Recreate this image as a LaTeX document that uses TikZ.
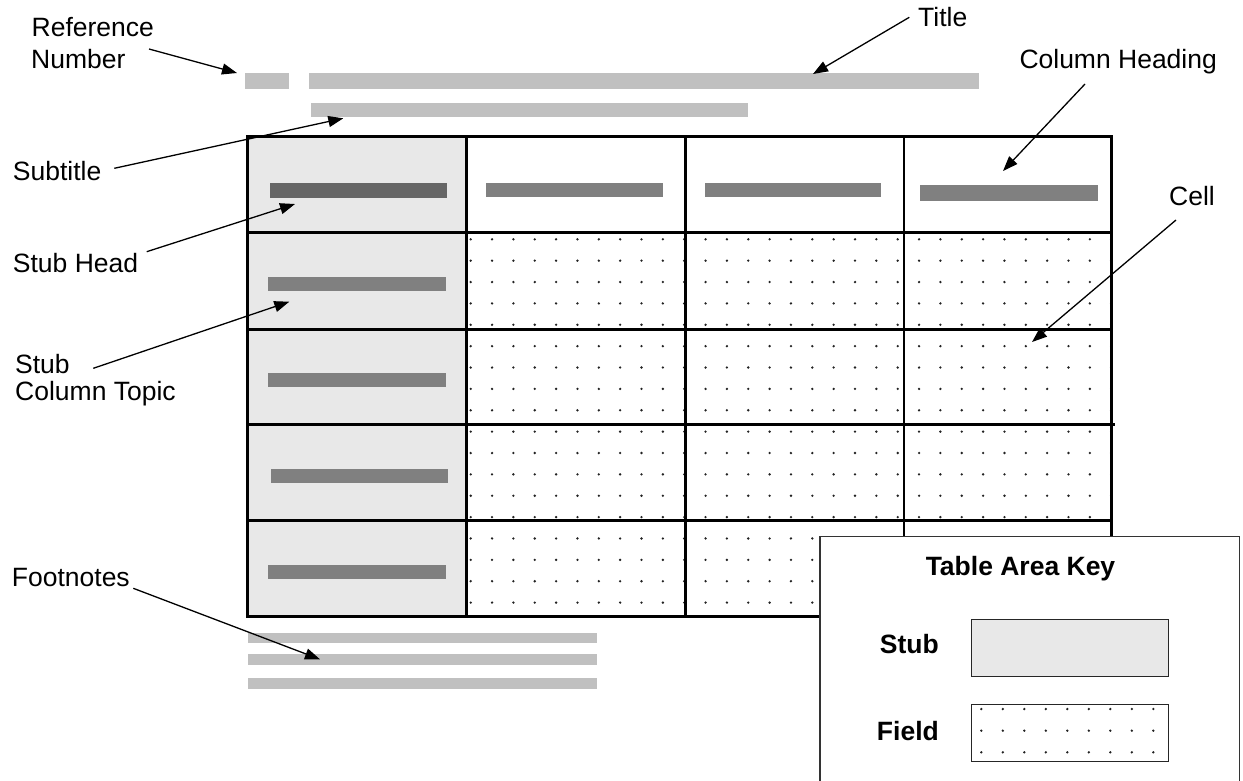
\documentclass[tikz,border=0pt]{standalone}
\usepackage{fontspec}
\setmainfont{Liberation Sans}
\usetikzlibrary{arrows.meta}
\definecolor{stubfill}{HTML}{E8E8E8}
\definecolor{barlight}{HTML}{C0C0C0}
\definecolor{barmid}{HTML}{808080}
\definecolor{bardark}{HTML}{666666}
\definecolor{dotc}{HTML}{222222}
\tikzset{
  lbl/.style={anchor=base west, inner sep=0pt, font=\fontsize{26.5}{30}\selectfont},
  bl/.style={anchor=base, inner sep=0pt, font=\bfseries\fontsize{26.5}{30}\selectfont},
  ptr/.style={line width=1.3pt, -{Triangle[length=15pt,width=11pt]}},
  grid/.style={line width=2.5pt},
  lightbar/.style={fill=barlight},
  midbar/.style={fill=barmid},
  darkbar/.style={fill=bardark},
  fdot/.style={fill=dotc},
}
\begin{document}
\begin{tikzpicture}[x=1pt,y=-1pt]
\useasboundingbox (0,0) rectangle (1243,780);
\fill[white] (0,0) rectangle (1243,780);

% stub fill
\fill[stubfill] (247.5,136.7) rectangle (466.7,616.7);

% field dots
\begin{scope}
\clip (467.5,233.5) rectangle (1112.5,616);
\foreach \j in {0,...,30} {
  \foreach \k in {0,...,17} {
    \fill[fdot] ({470.7+21.35*\j},{239.3+21.37*\k}) circle (1.3pt);
  }
}
\end{scope}

% grid
\draw[grid] (247.5,136.7) rectangle (1111.5,616.7);
\draw[grid] (466.7,136.7) -- (466.7,616.7);
\draw[grid] (685.5,136.7) -- (685.5,616.7);
\draw[grid] (904,136.7) -- (904,616.7);
\draw[grid] (247.5,232.7) -- (1111.5,232.7);
\draw[grid] (247.5,329.3) -- (1111.5,329.3);
\draw[grid] (247.5,424.5) -- (1115,424.5);
\draw[grid] (247.5,520.5) -- (1111.5,520.5);

% title bars
\fill[lightbar] (244.7,72.5) rectangle (288.5,89.3);
\fill[lightbar] (308.7,72.5) rectangle (979,89.3);
\fill[lightbar] (310.7,103.3) rectangle (748,116.7);

% heading bars
\fill[darkbar] (270,182.7) rectangle (447.3,197.7);
\fill[midbar] (486,182.7) rectangle (663,197.3);
\fill[midbar] (705,182.7) rectangle (881,197.3);
\fill[midbar] (920.3,185.3) rectangle (1098,200.7);

% stub bars
\fill[midbar] (268,277.3) rectangle (446,290.5);
\fill[midbar] (268,373.3) rectangle (446,386.5);
\fill[midbar] (271,469.3) rectangle (448,482.5);
\fill[midbar] (268,565.3) rectangle (446,578.5);

% footnote bars
\fill[lightbar] (248,633.3) rectangle (597,643.3);
\fill[lightbar] (248,654.3) rectangle (597,664.7);
\fill[lightbar] (248,678.3) rectangle (597,688.7);

% key box
\fill[white] (820,536.3) rectangle (1239.3,781);
\draw[line width=1.2pt, black!80] (820,781) -- (820,536.3) -- (1239.3,536.3) -- (1239.3,781);
\node[bl] (keyt) at (1020.5,575) {Table Area Key};
\node[bl, anchor=base east] (kstub) at (939,653.3) {Stub};
\node[bl, anchor=base east] (kfield) at (939,740.7) {Field};
\node[draw=black!85, line width=1.2pt, fill=stubfill, minimum width=197pt, minimum height=57pt, inner sep=0pt, anchor=north west] (kstubbox) at (971,619) {};
\node[draw=black!85, line width=1.2pt, fill=white, minimum width=197pt, minimum height=57pt, inner sep=0pt, anchor=north west] (kfieldbox) at (971,704) {};
\foreach \j in {0,...,8} {
  \foreach \k in {0,1,2} {
    \fill[fdot] ({981.3+21.5*\j},{709+21.65*\k}) circle (1.3pt);
  }
}

% labels
\node[lbl] (ref1) at (31.5,36) {Reference};
\node[lbl] (ref2) at (31,68.3) {Number};
\node[lbl] (title) at (918,26.7) {Title};
\node[lbl] (colh) at (1019.3,68.3) {Column Heading};
\node[lbl] (subt) at (12.7,180.7) {Subtitle};
\node[lbl] (stubh) at (12.7,272.7) {Stub Head};
\node[lbl] (cell) at (1169,205) {Cell};
\node[lbl] (sct1) at (15,373.3) {Stub};
\node[lbl] (sct2) at (15,400.7) {Column Topic};
\node[lbl] (foot) at (11.7,586.7) {Footnotes};

% arrow ends
\coordinate (refS) at (149,49);
\coordinate (refE) at (237,73);
\coordinate (titS) at (909.3,17.3);
\coordinate (titE) at (813,74);
\coordinate (colS) at (1085,84);
\coordinate (colE) at (1003,171);
\coordinate (subS) at (114.3,168.3);
\coordinate (subE) at (343.3,118.3);
\coordinate (shS) at (146.7,251.7);
\coordinate (shE) at (295,204);
\coordinate (sctS) at (93.3,368.3);
\coordinate (sctE) at (289.3,301.7);
\coordinate (cellS) at (1176,220);
\coordinate (cellE) at (1032,342);
\coordinate (footS) at (133.3,588.3);
\coordinate (footE) at (320,659.3);

\draw[ptr] (refS) -- (refE);
\draw[ptr] (titS) -- (titE);
\draw[ptr] (colS) -- (colE);
\draw[ptr] (subS) -- (subE);
\draw[ptr] (shS) -- (shE);
\draw[ptr] (sctS) -- (sctE);
\draw[ptr] (cellS) -- (cellE);
\draw[ptr] (footS) -- (footE);
\end{tikzpicture}
\end{document}
